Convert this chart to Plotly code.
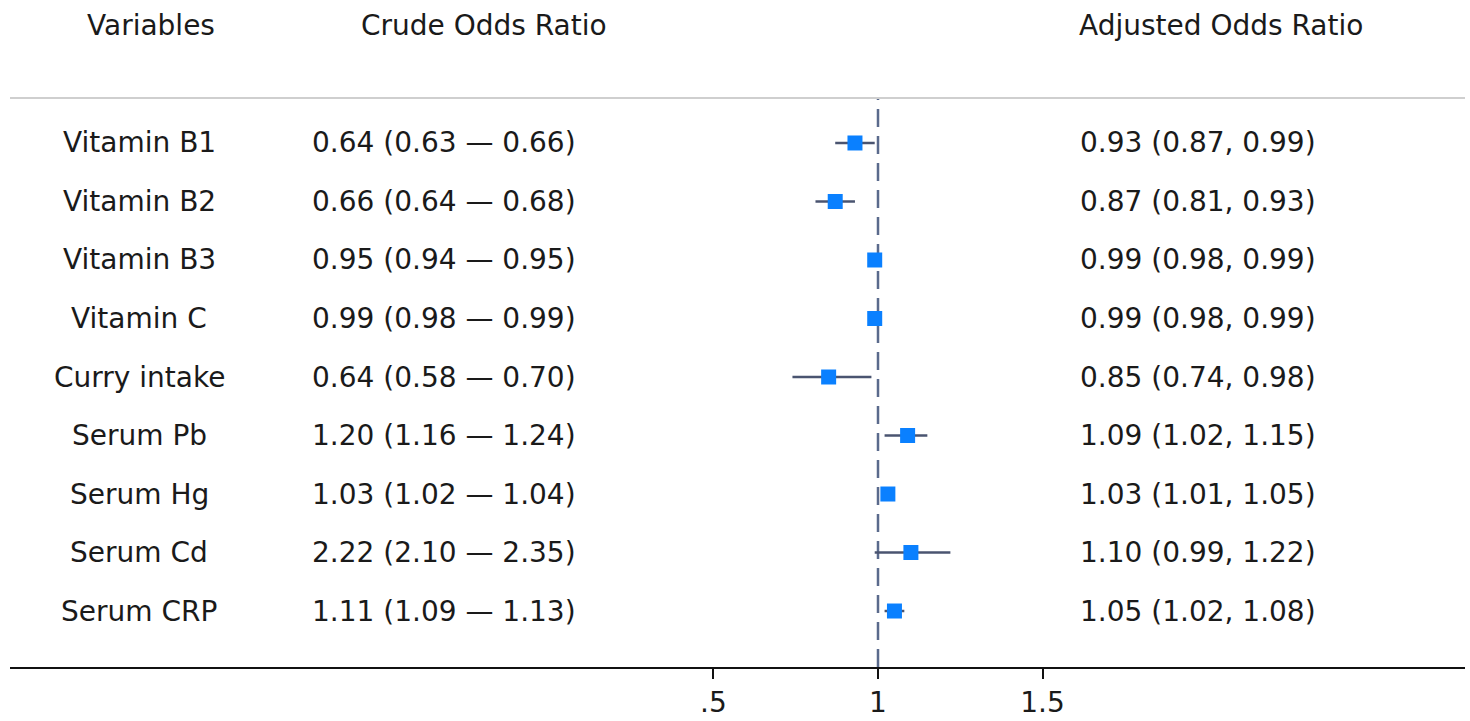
import plotly.graph_objects as go

variables = ["Vitamin B1", "Vitamin B2", "Vitamin B3", "Vitamin C", "Curry intake",
             "Serum Pb", "Serum Hg", "Serum Cd", "Serum CRP"]
crude_text = ["0.64 (0.63 — 0.66)", "0.66 (0.64 — 0.68)", "0.95 (0.94 — 0.95)",
              "0.99 (0.98 — 0.99)", "0.64 (0.58 — 0.70)", "1.20 (1.16 — 1.24)",
              "1.03 (1.02 — 1.04)", "2.22 (2.10 — 2.35)", "1.11 (1.09 — 1.13)"]
adj_or = [0.93, 0.87, 0.99, 0.99, 0.85, 1.09, 1.03, 1.10, 1.05]
adj_lo = [0.87, 0.81, 0.98, 0.98, 0.74, 1.02, 1.01, 0.99, 1.02]
adj_hi = [0.99, 0.93, 0.99, 0.99, 0.98, 1.15, 1.05, 1.22, 1.08]
tick_vals = [0.5, 1, 1.5]
tick_text = [".5", "1", "1.5"]
headers = ["Variables", "Crude Odds Ratio", "Adjusted Odds Ratio"]

rows = list(range(1, len(variables) + 1))
adj_text = [f"{o:.2f} ({l:.2f}, {h:.2f})" for o, l, h in zip(adj_or, adj_lo, adj_hi)]

FONT = "DejaVu Sans"
FS = 28
TXT = "#1a1a1a"

fig = go.Figure()
fig.add_trace(go.Scatter(
    x=adj_or, y=rows, mode="markers",
    marker=dict(symbol="square", size=15, color="#0a80ff", line=dict(width=0)),
    error_x=dict(type="data", symmetric=False,
                 array=[h - o for o, h in zip(adj_or, adj_hi)],
                 arrayminus=[o - l for o, l in zip(adj_or, adj_lo)],
                 color="#4a5470", thickness=2.5, width=0),
    showlegend=False, hoverinfo="skip"))

# dashed reference line at OR = 1
fig.add_shape(type="line", xref="x", yref="paper", x0=1, x1=1, y0=0, y1=1,
              line=dict(color="#5a6a8c", width=2.5, dash="18px,9px"), layer="below")
# top separator line
fig.add_shape(type="line", xref="paper", yref="paper", x0=0, x1=1, y0=1, y1=1,
              line=dict(color="#cfcfcf", width=2))

ann = []
X_VAR, X_CRUDE, X_ADJ = -1.245, -0.726, 1.608
for r, v, c, a in zip(rows, variables, crude_text, adj_text):
    ann.append(dict(x=X_VAR, y=r, xref="x", yref="y", text=v, showarrow=False,
                    xanchor="center", yanchor="middle", font=dict(family=FONT, size=FS, color=TXT)))
    ann.append(dict(x=X_CRUDE, y=r, xref="x", yref="y", text=c, showarrow=False,
                    xanchor="left", yanchor="middle", font=dict(family=FONT, size=FS, color=TXT)))
    ann.append(dict(x=X_ADJ, y=r, xref="x", yref="y", text=a, showarrow=False,
                    xanchor="left", yanchor="middle", font=dict(family=FONT, size=FS, color=TXT)))
for hx, h in zip([-1.208, -0.197, 2.043], headers):
    ann.append(dict(x=hx, y=1.128, xref="x", yref="paper", text=h, showarrow=False,
                    xanchor="center", yanchor="middle", font=dict(family=FONT, size=FS, color=TXT)))

fig.update_layout(
    width=1470, height=721,
    margin=dict(l=10, r=5, t=98, b=54),
    paper_bgcolor="white", plot_bgcolor="white",
    annotations=ann,
    xaxis=dict(range=[-1.638, 2.784], showgrid=False, zeroline=False, automargin=False,
               showline=True, linecolor="#111111", linewidth=1.5,
               ticks="outside", ticklen=10, tickwidth=1.5, tickcolor="#111111",
               tickvals=tick_vals, ticktext=tick_text,
               tickfont=dict(family=FONT, size=FS, color=TXT)),
    yaxis=dict(range=[9.957, 0.231], showgrid=False, zeroline=False, automargin=False,
               showticklabels=False, showline=False),
)
fig.write_html("out.html")
